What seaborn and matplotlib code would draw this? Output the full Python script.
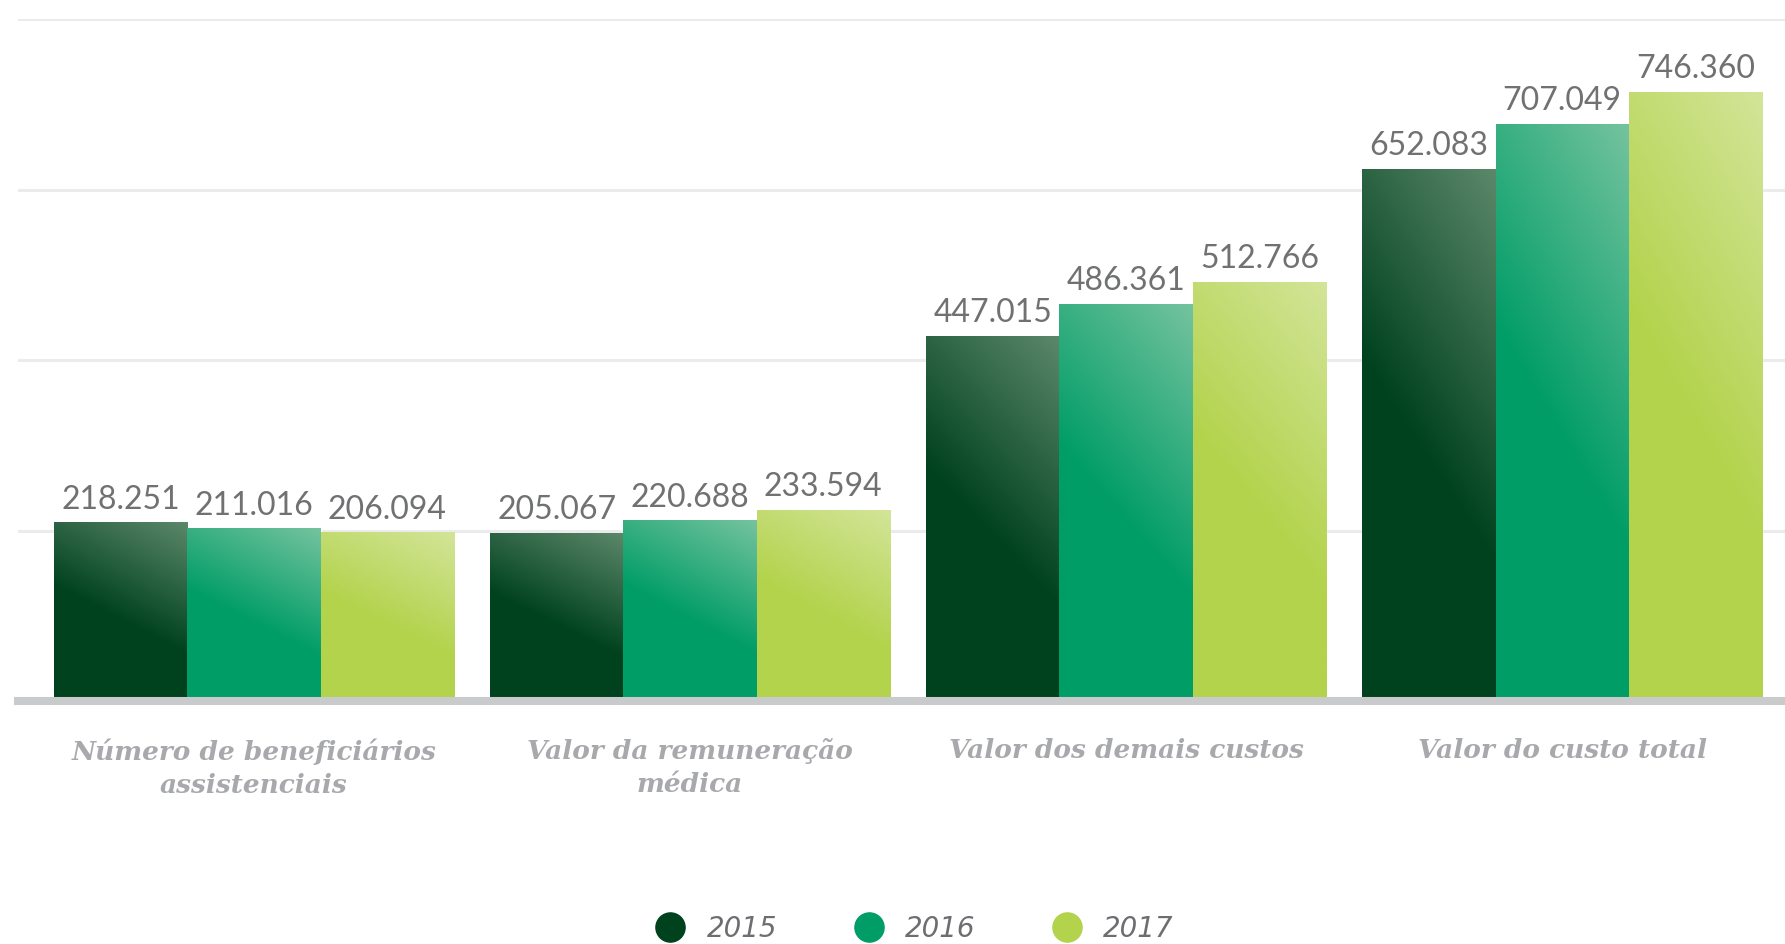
import numpy as np
import pandas as pd
import matplotlib
matplotlib.use("Agg")
import matplotlib.pyplot as plt
from matplotlib.colors import LinearSegmentedColormap
from matplotlib.lines import Line2D
import seaborn as sns

# data
categorias = ["Número de beneficiários\nassistenciais",
              "Valor da remuneração\nmédica",
              "Valor dos demais custos",
              "Valor do custo total"]
anos = ["2015", "2016", "2017"]
v2015 = [218.251, 205.067, 447.015, 652.083]
v2016 = [211.016, 220.688, 486.361, 707.049]
v2017 = [206.094, 233.594, 512.766, 746.360]

df = pd.DataFrame({
    "categoria": categorias * 3,
    "ano": [a for a in anos for _ in categorias],
    "valor": v2015 + v2016 + v2017,
})

cores = {"2015": "#00421e", "2016": "#009d67", "2017": "#b3d34c"}
claras = {"2015": "#5e8a6c", "2016": "#78c4a0", "2017": "#d4e59b"}

sns.set_style("white")
fig = plt.figure(figsize=(17.85, 9.44), dpi=100)
ax = fig.add_axes([18 / 1785, 1 - 701 / 944, 1 - 18 / 1785, (701 - 19) / 944])

sns.barplot(data=df, x="categoria", y="valor", hue="ano", palette=cores,
            width=0.917, dodge=True, legend=False, ax=ax, saturation=1)

ytop = 836
ax.set_ylim(0, ytop)
ax.set_xlim(-0.541, 3.511)
ax.set_yticks(np.linspace(0, ytop, 5))
ax.set_yticklabels([])
ax.yaxis.grid(True, color="#ebebeb", linewidth=2.2)
ax.set_axisbelow(True)
ax.tick_params(axis="both", length=0)
for s in ["left", "right", "top"]:
    ax.spines[s].set_visible(False)
ax.spines["bottom"].set_color("#c8cacc")
ax.spines["bottom"].set_linewidth(5.8)
ax.spines["bottom"].set_zorder(5)
ax.set_xlabel("")
ax.set_ylabel("")

# diagonal gradient on each bar (dark bottom-left, light top-right)
u = np.linspace(0, 1, 60)
v = np.linspace(0, 1, 120)
U, V = np.meshgrid(u, v)
t = np.clip((V - 0.45) * 1.3 + (U - 0.5) * 0.5, 0, 1)

for ano, cont in zip(anos, ax.containers):
    cmap = LinearSegmentedColormap.from_list(ano, [cores[ano], claras[ano]])
    for bar in cont:
        x0, w = bar.get_x(), bar.get_width()
        h = bar.get_height()
        ax.imshow(t, cmap=cmap, vmin=0, vmax=1, origin="lower", aspect="auto",
                  extent=[x0, x0 + w, 0, h], zorder=3, interpolation="bilinear")
    ax.bar_label(cont, labels=[f"{b.get_height():.3f}" for b in cont],
                 padding=6, fontsize=23, color="#707173",
                 fontfamily="Lato", fontweight="normal")

ax.set_xlim(-0.541, 3.511)
ax.set_ylim(0, ytop)

ax.set_xticks(range(len(categorias)))
ax.set_xticklabels(categorias, fontfamily="DejaVu Serif", fontstyle="italic",
                   fontweight="bold", color="#a7a9ac", fontsize=19,
                   linespacing=1.4)
ax.tick_params(axis="x", pad=27)

# legend
handles = [Line2D([], [], marker="o", linestyle="", markersize=21,
                  markerfacecolor=cores[a], markeredgecolor=cores[a]) for a in anos]
leg = fig.legend(handles, anos, loc="center", bbox_to_anchor=(908 / 1785, 0.016),
                 ncol=3, frameon=False, handletextpad=0.3, columnspacing=2.3,
                 prop={"family": "DejaVu Sans", "style": "italic", "size": 20})
for txt in leg.get_texts():
    txt.set_color("#6d6e71")

fig.savefig("out.png", dpi=100)
